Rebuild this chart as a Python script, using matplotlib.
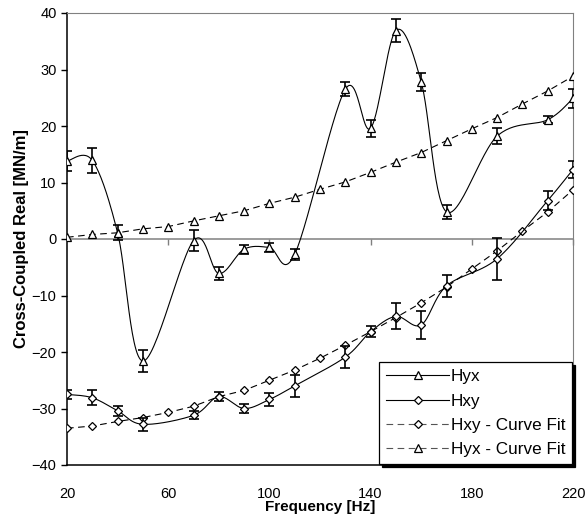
import numpy as np
import matplotlib
matplotlib.use("Agg")
import matplotlib.pyplot as plt

plt.rcParams['font.family'] = ['Liberation Sans', 'DejaVu Sans']

## Data
hyx_freq = [20, 30, 40, 50, 70, 80, 90, 100, 110, 130, 140, 150, 160, 170, 190, 210, 220]
hyx_val = [13.8, 13.9, 1.1, -21.6, -0.3, -6.1, -1.8, -1.5, -2.7, 26.5, 19.6, 36.9, 27.8, 4.8, 18.2, 21.1, 24.9]
hyx_err = [1.8, 2.2, 1.3, 2.0, 1.9, 1.2, 0.8, 0.8, 1.0, 1.2, 1.5, 2.0, 1.6, 1.2, 1.4, 0.6, 1.7]

hxy_freq = [20, 30, 40, 50, 70, 80, 90, 100, 110, 130, 140, 150, 160, 170, 190, 210, 220]
hxy_val = [-27.5, -28.1, -30.4, -32.8, -31.2, -27.9, -30.0, -28.4, -26.0, -20.9, -16.4, -13.7, -15.2, -8.3, -3.5, 6.8, 12.3]
hxy_err = [0.8, 1.3, 0.9, 1.1, 0.7, 0.8, 0.8, 1.1, 1.9, 1.9, 1.0, 2.3, 2.5, 2.0, 3.7, 1.7, 1.5]

fit_freq = [20, 30, 40, 50, 60, 70, 80, 90, 100, 110, 120, 130, 140, 150, 160, 170, 180, 190, 200, 210, 220]
hxy_fit = [-33.5, -33.1, -32.3, -31.6, -30.7, -29.6, -27.9, -26.8, -25.0, -23.2, -21.1, -18.8, -16.4, -13.9,
           -11.3, -8.5, -5.3, -2.1, 1.4, 4.8, 8.7]
hyx_fit = [0.3, 0.8, 1.1, 1.8, 2.2, 3.2, 4.1, 5.0, 6.3, 7.4, 8.8, 10.1, 11.8, 13.6, 15.3, 17.4, 19.5,
           21.5, 23.9, 26.2, 28.8]

XMIN, XMAX, YMIN, YMAX = 20, 220, -40, 40


## Excel-like smoothed line (Bezier through the points)
def smooth(x, y, n=30):
    x = np.asarray(x, float)
    y = np.asarray(y, float)
    # work in pixel-like coordinates so the shape follows the plot aspect
    sx = (x - XMIN) / (XMAX - XMIN) * 506
    sy = (y - YMIN) / (YMAX - YMIN) * 452
    P = np.column_stack([sx, sy])
    P = np.vstack([P[0], P, P[-1]])
    out = []
    t = np.linspace(0, 1, n)[:, None]
    for i in range(1, len(P) - 2):
        p0, p1, p2, p3 = P[i - 1], P[i], P[i + 1], P[i + 2]
        c1 = p1 + (p2 - p0) / 6
        c2 = p2 - (p3 - p1) / 6
        seg = ((1 - t) ** 3) * p1 + 3 * ((1 - t) ** 2) * t * c1 + 3 * (1 - t) * t ** 2 * c2 + t ** 3 * p2
        out.append(seg)
    pts = np.vstack(out)
    return (pts[:, 0] / 506 * (XMAX - XMIN) + XMIN,
            pts[:, 1] / 452 * (YMAX - YMIN) + YMIN)


fig = plt.figure(figsize=(5.88, 5.25), dpi=100)
ax = fig.add_axes([67 / 588, 1 - 465 / 525, 506 / 588, 452 / 525])

mk = dict(markersize=6, markerfacecolor='white', markeredgecolor='black', markeredgewidth=0.9)
dmk = {**mk, 'markersize': 4.5}
dash = (0, (6, 4))

# zero line (Excel category axis crossing at 0)
ax.axhline(0, color='#808080', lw=1.1, zorder=1)

# fitted curves
ax.plot(fit_freq, hxy_fit, color='black', lw=0.8, linestyle=dash, marker='D', **dmk, zorder=3)
ax.plot(fit_freq, hyx_fit, color='black', lw=0.8, linestyle=dash, marker='^', **mk, zorder=3)

# measured data, smoothed lines + error bars
for f, v, e, m in [(hyx_freq, hyx_val, hyx_err, '^'), (hxy_freq, hxy_val, hxy_err, 'D')]:
    sx, sy = smooth(f, v)
    ax.plot(sx, sy, color='black', lw=0.8, zorder=4)
    ax.errorbar(f, v, yerr=e, fmt='none', ecolor='black', elinewidth=1.2, capsize=3.8, capthick=1.2, zorder=4)
    ax.plot(f, v, linestyle='none', marker=m, **(mk if m == '^' else dmk), zorder=5)

# legend handles
h1, = ax.plot([], [], color='black', lw=0.8, marker='^', **mk)
h2, = ax.plot([], [], color='black', lw=0.8, marker='D', **dmk)
h3, = ax.plot([], [], color='#555555', lw=0.8, linestyle=dash, marker='D', **dmk)
h4, = ax.plot([], [], color='#555555', lw=0.8, linestyle=dash, marker='^', **mk)
leg = ax.legend([h1, h2, h3, h4], ['Hyx', 'Hxy', 'Hxy - Curve Fit', 'Hyx - Curve Fit'],
                loc='lower right', bbox_to_anchor=(1.0, 0.0), fontsize=12.3, numpoints=1,
                handlelength=3.7, handletextpad=0.1, labelspacing=0.55, borderpad=0.4,
                borderaxespad=0.05, fancybox=False, framealpha=1, edgecolor='black',
                shadow={'color': 'black', 'alpha': 1})
leg.get_frame().set_linewidth(0.9)
leg.set_zorder(10)

ax.set_xlim(XMIN, XMAX)
ax.set_ylim(YMIN, YMAX)
ax.set_xticks(range(20, 221, 40))
ax.set_yticks(range(-40, 41, 10))
ax.tick_params(axis='x', length=0, labelsize=10.5, pad=16)
ax.tick_params(axis='y', length=4, width=1, labelsize=10.5, direction='out')

for s in ['top', 'right']:
    ax.spines[s].set_color('#808080')
for s in ['left', 'bottom']:
    ax.spines[s].set_color('black')
    ax.spines[s].set_linewidth(1.1)

# tick marks on the zero line, pointing down
zx = ax.secondary_xaxis(0.5)
zx.set_xticks(range(60, 221, 40))
for sp in zx.spines.values():
    sp.set_visible(False)
zx.tick_params(axis='x', which='both', length=4, width=1, color='#808080',
               labelbottom=False, labeltop=False, bottom=False, top=True, direction='in')

ax.set_xlabel('Frequency [Hz]', fontsize=11, fontweight='bold', labelpad=-1)
ax.set_ylabel('Cross-Coupled Real [MN/m]', fontsize=12, fontweight='bold', labelpad=2)

fig.savefig('out.png', dpi=100)
